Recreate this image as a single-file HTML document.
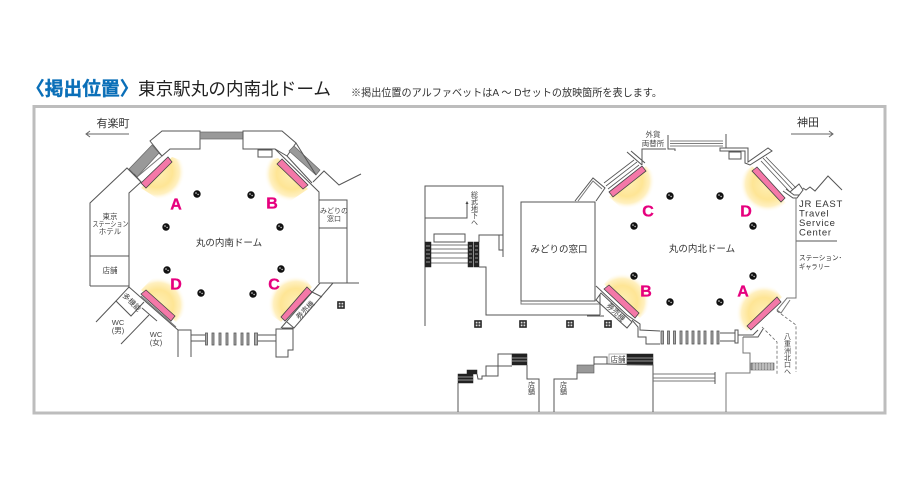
<!DOCTYPE html>
<html lang="ja"><head><meta charset="utf-8"><title>掲出位置</title>
<style>
html,body{margin:0;padding:0;background:#fff;width:919px;height:491px;overflow:hidden}
svg{display:block;font-family:"Liberation Sans","Noto Sans CJK JP",sans-serif}
.w{fill:none;stroke:#555;stroke-width:1}
.l{fill:none;stroke:#777;stroke-width:1}
.f{fill:#fff;stroke:#555;stroke-width:1}
.g{fill:#999;stroke:#666;stroke-width:.7}
.k{fill:#222;stroke:#222;stroke-width:.5}
.p{fill:#f478a8;stroke:#444;stroke-width:.8}
.t{fill:#444;text-anchor:middle;font-size:7.5px}
.m{fill:#e6007e;font-weight:bold;font-size:16px;text-anchor:middle;stroke:#e6007e;stroke-width:.3}
.v{writing-mode:vertical-rl;fill:#444;font-size:7px}
.d{fill:none;stroke:#666;stroke-width:.8;stroke-dasharray:3 2}
</style></head><body>
<svg width="919" height="491" viewBox="0 0 919 491" xmlns="http://www.w3.org/2000/svg">
<defs>
<radialGradient id="gl"><stop offset="0" stop-color="#fff0b8"/><stop offset=".55" stop-color="#fee595"/><stop offset=".8" stop-color="#fff0c0"/><stop offset="1" stop-color="#fff" stop-opacity="0"/></radialGradient>
<g id="c"><circle r="3.700" fill="#111"/><circle cx="-1" cy="-1" r=".8" fill="#ddd"/><circle cx="1.100" cy=".5" r=".7" fill="#ddd"/></g>
<g id="s"><rect x="-3.800" y="-3.800" width="7.600" height="7.600" fill="#222"/><rect x="-2.300" y="-2.300" width="1.800" height="1.800" fill="#ddd"/><rect x=".5" y="-2.300" width="1.800" height="1.800" fill="#ddd"/><rect x="-2.300" y=".5" width="1.800" height="1.800" fill="#ddd"/><rect x=".5" y=".5" width="1.800" height="1.800" fill="#ddd"/></g>
<clipPath id="ca"><polygon points="172,157 141,188 190,220 210,170"/></clipPath>
<clipPath id="cb"><polygon points="278,158 308,189 270,215 250,165"/></clipPath>
<clipPath id="cd"><polygon points="141,290 176,322 210,290 170,260"/></clipPath>
<clipPath id="cc"><polygon points="312,287 281,322 250,300 290,260"/></clipPath>
<clipPath id="c2"><polygon points="646,166 609,197 640,225 675,190"/></clipPath>
<clipPath id="d2"><polygon points="752,166 786,203 750,230 720,190"/></clipPath>
<clipPath id="b2"><polygon points="604,284 640,318 670,290 630,255"/></clipPath>
<clipPath id="a2"><polygon points="782,297 747,331 720,310 760,270"/></clipPath>
</defs>

<rect x="34" y="106.500" width="851" height="306.500" fill="#fff" stroke="#bdbdbd" stroke-width="3"/>

<text x="26" y="95" font-size="18.750" font-weight="bold" fill="#0a6fb8" stroke="#0a6fb8" stroke-width=".35">〈掲出位置〉</text>
<text x="138" y="95" font-size="17.500" fill="#222" textLength="193" lengthAdjust="spacingAndGlyphs">東京駅丸の内南北ドーム</text>
<text x="351" y="96" font-size="10.500" fill="#333" textLength="311" lengthAdjust="spacingAndGlyphs">※掲出位置のアルファベットはA ～ Dセットの放映箇所を表します。</text>

<!-- glows -->
<g clip-path="url(#ca)"><circle cx="157" cy="172" r="28" fill="url(#gl)"/></g>
<g clip-path="url(#cb)"><circle cx="292" cy="174" r="28" fill="url(#gl)"/></g>
<g clip-path="url(#cd)"><circle cx="158" cy="305" r="28" fill="url(#gl)"/></g>
<g clip-path="url(#cc)"><circle cx="296" cy="304" r="28" fill="url(#gl)"/></g>
<g clip-path="url(#c2)"><circle cx="627" cy="181" r="28" fill="url(#gl)"/></g>
<g clip-path="url(#d2)"><circle cx="768" cy="184" r="28" fill="url(#gl)"/></g>
<g clip-path="url(#b2)"><circle cx="622" cy="301" r="28" fill="url(#gl)"/></g>
<g clip-path="url(#a2)"><circle cx="764" cy="313" r="28" fill="url(#gl)"/></g>

<!-- LEFT MAP -->
<g>
<polygon class="w" points="150,141 162,131 200,131 200,149 170,149 162,156"/>
<rect x="200" y="132" width="43" height="7" class="g"/>
<polygon class="w" points="243,131 282,131 296,143 287,156 275,149 243,149"/>
<rect x="258" y="150" width="14" height="7" class="w"/>
<polygon class="g" points="152,145 159,153 137,177 129,169"/>
<polyline class="w" points="159,153 162,156"/>
<polyline class="w" points="134,174 141,182"/>
<polyline class="l" points="137,177 162,156"/>
<polyline class="w" points="90,286 90,203 127,168 141,182 129,193 129,287"/>
<line class="w" x1="90" y1="256" x2="129" y2="256"/>
<line class="w" x1="90" y1="286" x2="129" y2="286"/>
<polyline class="w" points="129,287 178,330"/>
<line class="l" x1="141" y1="296" x2="176" y2="327"/>
<polyline class="w" points="178,357 178,330 191,330 191,357"/>
<polyline class="w" points="96,322 116,301 131,316 144,302"/>
<line class="w" x1="116" y1="301" x2="129" y2="287"/>
<line class="w" x1="142" y1="308" x2="157" y2="321"/>
<line class="w" x1="149" y1="315" x2="121" y2="344"/>
<polygon class="g" points="294,146 320,170 316,175 289,151"/>
<polyline class="w" points="275,149 319,192 319,283"/>
<polyline class="w" points="287,156 312,183"/>
<polyline class="w" points="296,143 316,175"/>
<polyline class="w" points="313,182 324,171 339,185 361,174"/>
<polyline class="w" points="319,200 347,200 347,283"/>
<line class="w" x1="319" y1="228" x2="347" y2="228"/>
<line class="w" x1="320" y1="283" x2="359" y2="283"/>
<polyline class="w" points="333,283 294,328 282,328"/>
<line class="w" x1="320" y1="283" x2="281" y2="328"/>
<line class="w" x1="312" y1="292" x2="322" y2="297"/>
<line class="w" x1="287" y1="322" x2="294" y2="328"/>
<polygon class="w" points="276,329 293,329 293,350 288,350 288,357 276,357"/>
<path class="w" d="M191 335H205M191 341H205M258 335H276M258 341H276"/>
<g fill="#aaa" stroke="#555" stroke-width=".8">
<rect x="205.500" y="333" width="2" height="12"/><rect x="212" y="333" width="2" height="12"/><rect x="219" y="333" width="2" height="12"/><rect x="226" y="333" width="2" height="12"/><rect x="234" y="333" width="2" height="12"/><rect x="241" y="333" width="2" height="12"/><rect x="247" y="333" width="2" height="12"/><rect x="254.500" y="333" width="3" height="12"/>
</g>
<polygon class="p" points="168,157 172,162 146,188 141,183"/>
<polygon class="p" points="282,159 277,164 303,189 308,185"/>
<polygon class="p" points="146,290 141,294 171,321 175,316"/>
<polygon class="p" points="307,287 312,292 285,321 281,317"/>
<use href="#c" x="197" y="194"/><use href="#c" x="251" y="195"/><use href="#c" x="166" y="227"/><use href="#c" x="280" y="227"/>
<use href="#c" x="167" y="270"/><use href="#c" x="281" y="269"/><use href="#c" x="201" y="293"/><use href="#c" x="253" y="294"/>
<use href="#s" x="341" y="305"/>
<text class="m" x="176" y="209.500">A</text><text class="m" x="272" y="208.500">B</text><text class="m" x="176" y="289.500">D</text><text class="m" x="274" y="289.500">C</text>
<text x="229" y="246" font-size="9.500" fill="#333" text-anchor="middle">丸の内南ドーム</text>
<text class="t" x="110" y="219">東京</text><text class="t" x="110.500" y="226.500" textLength="36" lengthAdjust="spacingAndGlyphs">ステーション</text><text class="t" x="110" y="234">ホテル</text>
<text class="t" x="110" y="273">店舗</text>
<text class="t" x="334" y="213" style="font-size:7px">みどりの</text><text class="t" x="334" y="221" style="font-size:7px">窓口</text>
<text class="t" x="118" y="325">WC</text><text class="t" x="118" y="333">(男)</text>
<text class="t" x="156" y="337">WC</text><text class="t" x="156" y="345">(女)</text>
<text class="t" transform="translate(130,304) rotate(45)">多機能</text>
<text class="t" transform="translate(307,312) rotate(-45)">券売機</text>
<text x="113" y="127" font-size="11" fill="#333" text-anchor="middle">有楽町</text>
<path d="M129 134H86M90 131L86 134L90 137" fill="none" stroke="#666"/>
</g>

<!-- RIGHT MAP -->
<g>
<polyline class="w" points="425,326 425,186 503,186 503,257"/>
<polyline class="w" points="425,218 467,218 467,203"/>
<path d="M467 201l-1.500 3h3z" fill="#444"/>
<text class="v" x="474" y="191">総武地下へ</text>
<polyline class="w" points="479,242 479,235 503,235"/>
<polyline class="w" points="499,235 499,250 503,250"/>
<rect x="434" y="234" width="31" height="8" class="w"/>
<path class="l" d="M431 245H468M431 249H468M431 253H468M431 258H468M431 263H468"/>
<g class="k"><rect x="425" y="242" width="6" height="25"/><rect x="468" y="242" width="5" height="25"/><rect x="474" y="242" width="5" height="25"/></g>
<g stroke="#bbb" stroke-width=".7"><path d="M426 246h4M426 250h4M426 254h4M426 258h4M426 262h4M469 246h3M469 250h3M469 254h3M469 258h3M469 262h3M475 246h3M475 250h3M475 254h3M475 258h3M475 262h3"/></g>
<polyline class="w" points="479,267 486,267 486,315 600,315"/>
<line class="w" x1="587" y1="316" x2="604" y2="316"/>
<polyline class="w" points="600,315 600,294"/>
<rect x="521" y="202" width="74" height="99" class="w"/>
<polyline class="l" points="521,301 521,304 600,304"/>
<text x="559" y="252.500" font-size="9.500" fill="#333" text-anchor="middle">みどりの窓口</text>
<polyline class="w" points="575,201 593,178 605,188 596,201"/>
<polyline class="l" points="578,201 593,181 602,189"/>
<path class="w" style="stroke-width:.8" d="M604 183L634 160M606 186L637 162M608 189L639 165"/>
<path class="w" d="M627 152L642 165M631 151L645 163"/>
<polyline class="w" points="642,165 642,149 666,149"/>
<polyline class="w" points="668,135 668,149 675,149 675,151"/>
<path class="w" style="stroke-width:.8" d="M670 141H723M670 143.500H723M670 146H723"/>
<polyline class="w" points="726,134 726,148 720,148 720,151 745,151 745,163 750,165 772,151 768,148 748,162 748,148 726,148"/>
<rect x="729" y="152" width="12" height="7" class="w"/>
<path class="w" style="stroke-width:.8" d="M763 158L793 190M766 157L796 188M761 161L790 192"/>
<polyline class="w" points="783,191 793,198 797,198 803,190 799,184 790,192"/>
<polyline class="w" points="786,189 794,195 799,195"/>
<polyline class="w" points="803,188 806,190 810,187 815,191 828,176 842,190"/>
<polyline class="l" points="796,198 796,298 787,298 777,310 781,313 790,300"/>
<line x1="796" y1="241" x2="837" y2="241" stroke="#777" stroke-width="1.300"/>
<g font-size="9.500" fill="#333" letter-spacing=".7"><text x="799" y="207">JR EAST</text><text x="799" y="216.500">Travel</text><text x="799" y="226">Service</text><text x="799" y="235.500">Center</text></g>
<g font-size="7" fill="#333"><text x="799" y="260" textLength="43" lengthAdjust="spacingAndGlyphs">ステーション･</text><text x="799" y="269" textLength="31" lengthAdjust="spacingAndGlyphs">ギャラリー</text></g>
<text x="808" y="126" font-size="11" fill="#333" text-anchor="middle">神田</text>
<path d="M791 134H833M829 131L833 134L829 137" fill="none" stroke="#666"/>
<text class="t" x="653" y="137">外貨</text><text class="t" x="653" y="146">両替所</text>

<polyline class="w" points="596,286 627,315 640,324 640,330 660,331"/>
<polygon class="w" points="601,293 596,300 627,328 632,322"/>
<polyline class="w" points="632,320 638,327 638,337 646,337 646,344 660,344"/>
<text class="t" transform="translate(614,314) rotate(45)">券売機</text>
<g fill="#aaa" stroke="#555" stroke-width=".8">
<rect x="661" y="331" width="2.500" height="13"/><rect x="667.500" y="331" width="2" height="13"/><rect x="673.500" y="331" width="2" height="13"/><rect x="680" y="331" width="2" height="13"/><rect x="686" y="331" width="2" height="13"/><rect x="692" y="331" width="2" height="13"/><rect x="698" y="331" width="2" height="13"/><rect x="704" y="331" width="2" height="13"/><rect x="711" y="331" width="2" height="13"/><rect x="717" y="331" width="2" height="13"/>
</g>
<path class="w" d="M720 333H735M720 341H735"/>
<rect x="735" y="330" width="3" height="13" class="w"/>
<polyline class="w" points="738,335 753,335 758,330"/>
<polyline class="w" points="743,337 758,337 763,329"/>
<polyline class="l" points="743,337 743,353 750,353 750,373 726,373 726,412"/>
<rect x="751" y="363" width="23" height="7" fill="#999" stroke="#555" stroke-width=".6"/>
<path stroke="#fff" stroke-width=".7" d="M754 363v7M757 363v7M760 363v7M763 363v7M766 363v7M769 363v7M772 363v7"/>
<polyline class="d" points="762,327 777,342 777,375"/>
<polyline class="d" points="777,311 796,325 796,372"/>
<text class="v" x="787" y="333">八重洲北口へ</text>

<polygon class="p" points="642,166 646,171 613,197 609,192"/>
<polygon class="p" points="757,167 752,171 781,202 785,198"/>
<polygon class="p" points="609,285 604,289 635,318 639,313"/>
<polygon class="p" points="777,297 781,302 751,330 747,326"/>
<use href="#c" x="634" y="226"/><use href="#c" x="670" y="196"/><use href="#c" x="720" y="196"/><use href="#c" x="753" y="226"/>
<use href="#c" x="634" y="276"/><use href="#c" x="670" y="302"/><use href="#c" x="720" y="302"/><use href="#c" x="753" y="276"/>
<use href="#s" x="478" y="324"/><use href="#s" x="523" y="324"/><use href="#s" x="570" y="324"/><use href="#s" x="608" y="324"/>
<text class="m" x="648" y="216.500">C</text><text class="m" x="746" y="216.500">D</text><text class="m" x="646" y="296.500">B</text><text class="m" x="743" y="296.500">A</text>
<text x="702" y="252" font-size="9.500" fill="#333" text-anchor="middle">丸の内北ドーム</text>

<!-- lower buildings -->
<polyline class="w" points="458,412 458,383"/>
<g class="k"><rect x="458" y="374" width="15" height="9"/><rect x="467" y="370" width="10" height="4"/></g>
<path stroke="#bbb" stroke-width=".8" d="M458 377h15M458 380h15"/>
<polyline class="w" points="477,374 478,379 482,379 482,376 486,376"/>
<rect x="486" y="366" width="12" height="10" class="w"/>
<polyline class="w" points="498,366 498,354 527,354"/>
<line class="w" x1="498" y1="366" x2="512" y2="366"/>
<rect x="512" y="354" width="15" height="11" class="k"/>
<path stroke="#bbb" stroke-width=".8" d="M512 358h15M512 361h15"/>
<polyline class="w" points="527,365 527,379 539,379 539,412"/>
<text class="v" x="531" y="381">店舗</text>
<polyline class="w" points="554,412 554,379 577,379 577,372"/>
<rect x="577" y="365" width="17" height="8" fill="#999" stroke="#555" stroke-width=".6"/>
<polyline class="w" points="594,365 594,357 607,357 607,364 594,364"/>
<rect x="609" y="354" width="18" height="10" fill="#fff" stroke="#999" stroke-width=".7"/>
<text class="t" x="618" y="362">店舗</text>
<rect x="627" y="354" width="26" height="11" class="k"/>
<path stroke="#bbb" stroke-width=".8" d="M627 358h26M627 361h26"/>
<polyline class="w" points="607,364 653,365 653,412"/>
<path class="l" d="M653 374H715M653 378H715M653 381H715"/>
<line class="w" x1="715" y1="372" x2="715" y2="384"/>
<text class="v" x="563" y="381">店舗</text>
</g>
</svg>
</body></html>
